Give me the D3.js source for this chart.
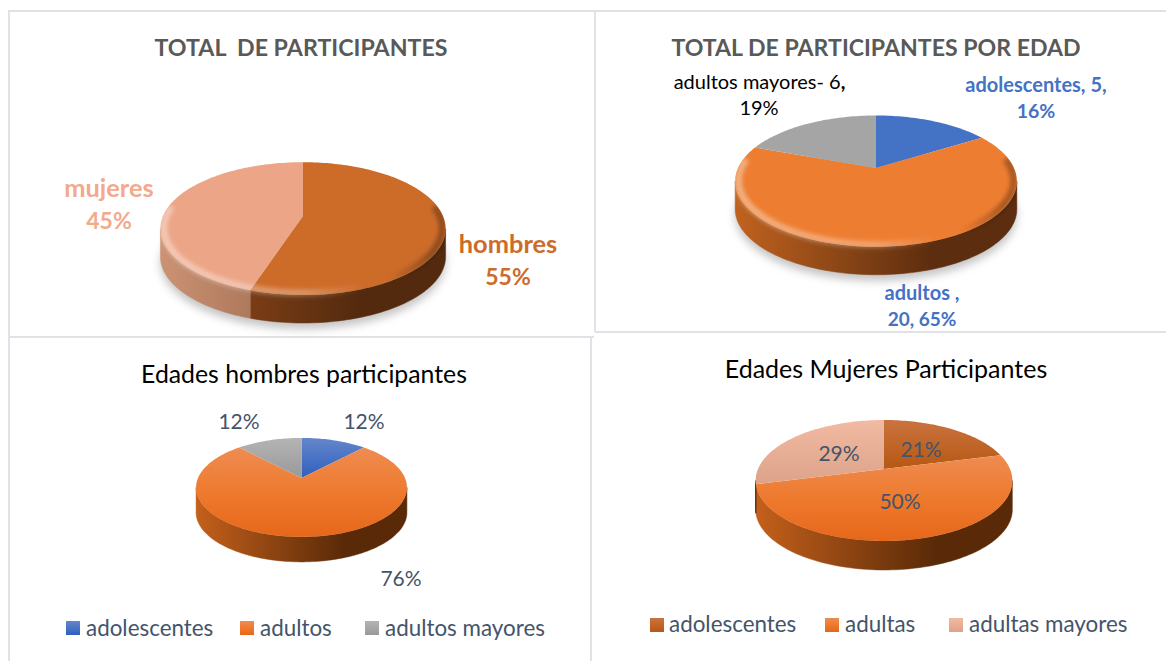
<!DOCTYPE html>
<html>
<head>
<meta charset="utf-8">
<script src="https://cdn.jsdelivr.net/npm/d3@7"></script>
<style>
  body { margin: 0; background: #fff; }
  text { font-family: Lato, "Open Sans", sans-serif; white-space: pre; }
</style>
</head>
<body>
<div id="my_dataviz"></div>
<script>
// Chart values
const totalNames = ["hombres", "mujeres"];
const totalValues = [55, 45];

const edadNames = ["adolescentes", "adultos", "adultos mayores"];
const edadValues = [5, 20, 6];

const hombresNames = ["adolescentes", "adultos", "adultos mayores"];
const hombresValues = [12, 76, 12];

const mujeresNames = ["adolescentes", "adultas", "adultas mayores"];
const mujeresValues = [21, 50, 29];

const width = 1166, height = 661;
const ink = "#44546a";

const svg = d3.select("#my_dataviz")
  .append("svg")
  .attr("width", width)
  .attr("height", height)
  .style("display", "block");

const defs = svg.append("defs");
defs.append("filter").attr("id", "soft").attr("x", "-20%").attr("y", "-20%").attr("width", "140%").attr("height", "140%")
  .append("feGaussianBlur").attr("stdDeviation", 4);
defs.append("filter").attr("id", "soft1").attr("x", "-20%").attr("y", "-20%").attr("width", "140%").attr("height", "140%")
  .append("feGaussianBlur").attr("stdDeviation", 2);

function vGradient(id, stops) {
  const g = defs.append("linearGradient").attr("id", id).attr("x1", 0).attr("y1", 0).attr("x2", 0).attr("y2", 1);
  stops.forEach((c, i) => g.append("stop").attr("offset", i / (stops.length - 1)).attr("stop-color", c));
  return `url(#${id})`;
}
const gBlue = vGradient("gBlue", ["#6486cc", "#2f60bd"]);
const gOrange = vGradient("gOrange", ["#ee8c52", "#ee7a2e", "#e6671a"]);
const gGrey = vGradient("gGrey", ["#b4b4b4", "#999999"]);
const gDark = vGradient("gDark", ["#c9733f", "#b75813"]);
const gLight = vGradient("gLight", ["#f3baa3", "#dca38a"]);

// Panel borders
const borderColor = "#dfe2e6";
const borders = [
  [8, 11, 594, 11], [594, 11, 1166, 11], [9, 11, 9, 337], [8, 337, 594, 337],
  [595, 11, 595, 332], [595, 332, 1166, 332], [9, 337, 9, 661], [591, 337, 591, 661]
];
svg.selectAll(".border").data(borders).join("line")
  .attr("class", "border")
  .attr("x1", d => d[0]).attr("y1", d => d[1]).attr("x2", d => d[2]).attr("y2", d => d[3])
  .attr("stroke", borderColor).attr("stroke-width", 2);

function drawPie(o) {
  const g = svg.append("g");
  const project = (a, r) => {
    const u = r * Math.sin(a), v = -r * Math.cos(a), w = 1 - o.k * v;
    return [o.cx + o.R * u / w, o.cy + o.Ry * v / w];
  };
  const arcPts = (a0, a1, r) => {
    const n = Math.max(2, Math.ceil((a1 - a0) * 40));
    return d3.range(n + 1).map(i => project(a0 + (a1 - a0) * i / n, r));
  };
  const line = d3.line();
  const visStart = Math.acos(-o.k), visEnd = 2 * Math.PI - visStart;
  const rx = o.R / Math.sqrt(1 - o.k * o.k);
  const slices = d3.pie().sort(null)(o.values);
  const down = p => [p[0], p[1] + o.depth];

  // soft shadow under the pie
  if (o.shadow) {
    const full = arcPts(0, 2 * Math.PI, 1).map(p => [p[0], p[1] + o.depth + 6]);
    g.append("path").attr("d", line(full) + "Z").attr("fill", "#c4c4c4").attr("filter", "url(#soft)");
  }

  // side wall, one piece per slice
  slices.forEach((s, i) => {
    const a0 = Math.max(s.startAngle, visStart), a1 = Math.min(s.endAngle, visEnd);
    if (a0 >= a1) return;
    const id = `${o.id}side${i}`;
    const grad = defs.append("linearGradient").attr("id", id).attr("gradientUnits", "userSpaceOnUse")
      .attr("x1", o.cx - rx).attr("x2", o.cx + rx).attr("y1", 0).attr("y2", 0);
    grad.append("stop").attr("offset", 0).attr("stop-color", o.sideLeft[i]);
    grad.append("stop").attr("offset", 0.7).attr("stop-color", o.sideRight[i]);
    grad.append("stop").attr("offset", 1).attr("stop-color", o.sideRight[i]);
    const top = arcPts(a0, a1, 1);
    g.append("path").attr("d", line(top.concat(top.map(down).reverse())) + "Z")
      .attr("fill", `url(#${id})`).attr("stroke", `url(#${id})`).attr("stroke-width", 0.5);
  });

  // top face
  g.selectAll(".face").data(slices).join("path")
    .attr("class", "face")
    .attr("d", s => line([[o.cx, o.cy]].concat(arcPts(s.startAngle, s.endAngle, 1))) + "Z")
    .attr("fill", (s, i) => o.faces[i]);

  // rounded edge of the first two pies, kept inside the silhouette
  if (o.bevel) {
    const id = `${o.id}bevel`;
    const grad = defs.append("linearGradient").attr("id", id).attr("gradientUnits", "userSpaceOnUse")
      .attr("x1", o.cx - rx).attr("x2", o.cx + rx).attr("y1", 0).attr("y2", 0);
    [[0, "#fff", 0.4], [0.5, "#fff", 0.28], [0.72, "#fff", 0], [0.8, "#000", 0], [0.95, "#000", 0.3], [1, "#000", 0.3]].forEach(d => {
      grad.append("stop").attr("offset", d[0]).attr("stop-color", d[1]).attr("stop-opacity", d[2]);
    });
    const near = arcPts(visStart, visEnd, 1);
    const clipId = `${o.id}clip`;
    defs.append("clipPath").attr("id", clipId).append("path")
      .attr("d", line(arcPts(0, 2 * Math.PI, 1)) + "Z" + line(near.concat(near.map(down).reverse())) + "Z");
    g.append("g").attr("clip-path", `url(#${clipId})`)
      .append("path").attr("d", line(arcPts(visStart - 0.35, visEnd + 0.35, 0.978)))
      .attr("fill", "none").attr("stroke", `url(#${id})`).attr("stroke-width", 7).attr("filter", "url(#soft1)");
  }
  return g;
}

function drawText(rows) {
  const t = svg.selectAll(null).data(rows).join("text")
    .attr("x", d => d.x).attr("y", d => d.y)
    .attr("text-anchor", d => d.anchor || "middle")
    .attr("font-size", d => d.size)
    .attr("font-weight", d => d.bold ? 700 : 400)
    .attr("fill", d => d.color)
    .text(d => d.text);
  // bold tail, for the comma after the older adults count
  t.filter(d => d.tail).append("tspan").attr("font-weight", 700).text(d => d.tail);
}

function drawLegend(items) {
  svg.selectAll(null).data(items).join("rect")
    .attr("x", d => d.x).attr("y", d => d.y).attr("width", 14).attr("height", 14).attr("fill", d => d.fill);
}

// Top left: total de participantes
drawPie({
  id: "p1", values: totalValues, cx: 303, cy: 216, R: 140, Ry: 64, k: 0.19, depth: 28, shadow: true, bevel: true,
  faces: ["#cd6b29", "#eca586"], sideLeft: ["#9a4d1c", "#cc9274"], sideRight: ["#532a0e", "#8a5a40"]
});
drawText([
  { text: "TOTAL  DE PARTICIPANTES", x: 301, y: 56, size: 23.2, bold: true, color: "#595959" },
  { text: totalNames[1], x: 109, y: 197, size: 25.4, bold: true, color: "#f2a98c" },
  { text: totalValues[1] + "%", x: 109, y: 229, size: 23, bold: true, color: "#f2a98c" },
  { text: totalNames[0], x: 508, y: 253, size: 25.4, bold: true, color: "#cd6b29" },
  { text: totalValues[0] + "%", x: 508, y: 285, size: 23, bold: true, color: "#cd6b29" }
]);

// Top right: total por edad
drawPie({
  id: "p2", values: edadValues, cx: 876, cy: 168, R: 138, Ry: 63, k: 0.2, depth: 28, shadow: true, bevel: true,
  faces: ["#4472c4", "#ed7d31", "#a5a5a5"], sideLeft: ["#000", "#c0621f", "#000"], sideRight: ["#000", "#5c2d0e", "#000"]
});
drawText([
  { text: "TOTAL DE PARTICIPANTES POR EDAD", x: 876, y: 56, size: 23.1, bold: true, color: "#595959" },
  { text: `${edadNames[2]}- ${edadValues[2]}`, tail: ",", x: 759.5, y: 89, size: 20, color: "#000" },
  { text: "19%", x: 759, y: 115, size: 20, color: "#000" },
  { text: `${edadNames[0]}, ${edadValues[0]},`, x: 1036, y: 92, size: 20, bold: true, color: "#4472c4" },
  { text: "16%", x: 1036, y: 118, size: 19.5, bold: true, color: "#4472c4" },
  { text: `${edadNames[1]} ,`, x: 922, y: 300, size: 20, bold: true, color: "#4472c4" },
  { text: `${edadValues[1]}, 65%`, x: 922, y: 326, size: 19, bold: true, color: "#4472c4" }
]);

// Bottom left: edades hombres
drawPie({
  id: "p3", values: hombresValues, cx: 301.5, cy: 478, R: 103.5, Ry: 47.7, k: 0.19, depth: 25,
  faces: [gBlue, gOrange, gGrey], sideLeft: ["#000", "#c4601b", "#000"], sideRight: ["#000", "#5a2a08", "#000"]
});
drawText([
  { text: "Edades hombres participantes", x: 304, y: 383, size: 24.8, color: "#000" },
  { text: hombresValues[2] + "%", x: 239, y: 429, size: 21, color: ink },
  { text: hombresValues[0] + "%", x: 364, y: 429, size: 21, color: ink },
  { text: hombresValues[1] + "%", x: 401, y: 586, size: 21, color: ink },
  { text: hombresNames[0], x: 86, y: 636, size: 22.4, color: ink, anchor: "start" },
  { text: hombresNames[1], x: 260, y: 636, size: 22.4, color: ink, anchor: "start" },
  { text: hombresNames[2], x: 385, y: 636, size: 22.4, color: ink, anchor: "start" }
]);
drawLegend([
  { x: 66, y: 621, fill: gBlue }, { x: 240, y: 621, fill: gOrange }, { x: 365, y: 621, fill: gGrey }
]);

// Bottom right: edades mujeres
drawPie({
  id: "p4", values: mujeresValues, cx: 884, cy: 469, R: 126, Ry: 58.3, k: 0.19, depth: 29,
  faces: [gDark, gOrange, gLight], sideLeft: ["#000", "#c4601b", "#000"], sideRight: ["#000", "#5a2a08", "#000"]
});
drawText([
  { text: "Edades Mujeres Participantes", x: 886, y: 378, size: 25, color: "#000" },
  { text: mujeresValues[2] + "%", x: 839, y: 461, size: 21, color: ink },
  { text: mujeresValues[0] + "%", x: 921, y: 457, size: 21, color: ink },
  { text: mujeresValues[1] + "%", x: 900, y: 509, size: 21, color: ink },
  { text: mujeresNames[0], x: 669, y: 632, size: 22.4, color: ink, anchor: "start" },
  { text: mujeresNames[1], x: 845, y: 632, size: 22.4, color: ink, anchor: "start" },
  { text: mujeresNames[2], x: 969, y: 632, size: 22.4, color: ink, anchor: "start" }
]);
drawLegend([
  { x: 650, y: 618, fill: gDark }, { x: 825, y: 618, fill: gOrange }, { x: 949, y: 618, fill: gLight }
]);
</script>
</body>
</html>
